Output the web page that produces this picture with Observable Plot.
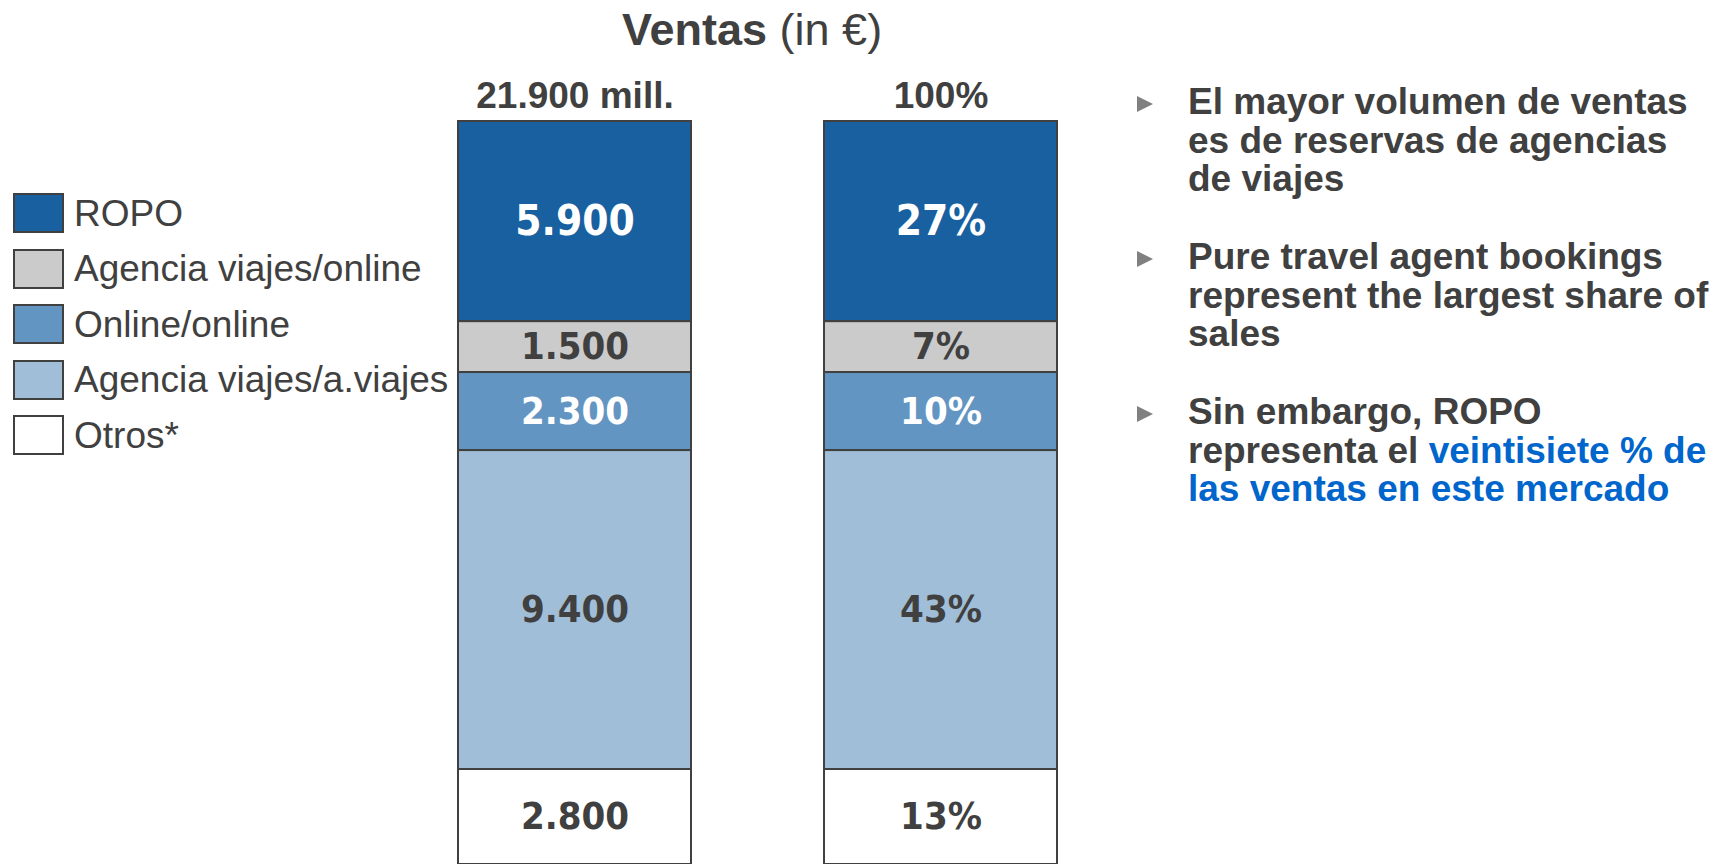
<!DOCTYPE html>
<html>
<head>
<meta charset="utf-8">
<script src="https://cdn.jsdelivr.net/npm/d3@7"></script>
<script src="https://cdn.jsdelivr.net/npm/@observablehq/plot@0.6"></script>
<style>
  html, body { margin: 0; padding: 0; background: #ffffff; }
  #page { position: relative; width: 1726px; height: 864px; overflow: hidden; font-family: "Liberation Sans", Arial, sans-serif; color: #404040; }
  #chart { position: absolute; left: 0; top: 0; }
  .abs { position: absolute; white-space: nowrap; }
  #title { font-size: 45px; line-height: 45px; }
  .leg-sq { position: absolute; box-sizing: border-box; width: 51px; height: 40px; border: 2px solid #404040; }
  .leg-tx { position: absolute; font-size: 37px; line-height: 37px; white-space: nowrap; }
  .bullet { position: absolute; font-size: 37px; line-height: 38.75px; font-weight: bold; white-space: nowrap; }
  .tri { position: absolute; width: 0; height: 0; border-top: 8px solid transparent; border-bottom: 8px solid transparent; border-left: 16px solid #808080; }
  .hl { color: #0066cc; }
</style>
</head>
<body>
<div id="page">
  <div id="chart"></div>
</div>
<script>
// ---- data ----
const categories = ["ROPO", "Agencia viajes/online", "Online/online", "Agencia viajes/a.viajes", "Otros*"];
const colors = ["#1860a0", "#cbcbcb", "#6395c2", "#a0bed8", "#ffffff"];
const labelColors = ["#ffffff", "#404040", "#ffffff", "#404040", "#404040"];
const ventas = [5900, 1500, 2300, 9400, 2800];   // mill. €
const shares = [27, 7, 10, 43, 13];              // % (labels of the share bar)
const bars = ["ventas", "share"];
const barHeaders = ["21.900 mill.", "100%"];
const titleBold = "Ventas";
const titleRest = " (in €)";
const bullets = [
  [["El mayor volumen de ventas"], ["es de reservas de agencias"], ["de viajes"]],
  [["Pure travel agent bookings"], ["represent the largest share of"], ["sales"]],
  [["Sin embargo, ROPO"], ["representa el ", "veintisiete % de"], ["", "las ventas en este mercado"]]
];

// ---- build rows ----
const fmt = d3.formatLocale({decimal: ",", thousands: ".", grouping: [3], currency: ["", "€"]}).format(",d");
const rows = [];
categories.forEach((c, i) => {
  // both bars are the same sales split; the second one is labelled as share of the total
  rows.push({bar: bars[0], cat: c, value: ventas[i], label: fmt(ventas[i]), lc: labelColors[i]});
  rows.push({bar: bars[1], cat: c, value: ventas[i], label: shares[i] + "%", lc: labelColors[i]});
});
const headerRows = bars.map((b, i) => ({bar: b, header: barHeaders[i]}));
const stackOrder = categories.slice().reverse(); // bottom to top

const numFont = "'DejaVu Sans Condensed', 'DejaVu Sans', sans-serif";
const arial = "'Liberation Sans', Arial, sans-serif";
const stackOpts = {x: "bar", y: "value", z: "cat", order: stackOrder, offset: "normalize"};

function labelMark(pred, fill, size) {
  return Plot.text(rows, Plot.stackY({
    ...stackOpts,
    text: d => pred(d) ? d.label : null,
    fill, fontSize: size, fontWeight: "bold", fontFamily: numFont
  }));
}

const chart = Plot.plot({
  width: 1726,
  height: 864,
  marginTop: 121,
  marginBottom: 0,
  marginLeft: 458,
  marginRight: 669,
  style: {background: "transparent", fontFamily: arial, overflow: "visible"},
  x: {domain: bars, paddingInner: 0.3634, paddingOuter: 0, axis: null},
  y: {domain: [0, 1], axis: null},
  color: {domain: categories, range: colors},
  marks: [
    Plot.barY(rows, {...stackOpts, fill: "cat", stroke: "#404040", strokeWidth: 2}),
    labelMark(d => d.cat === "ROPO", "#ffffff", 42),
    labelMark(d => d.cat === "Online/online", "#ffffff", 38),
    labelMark(d => d.lc !== "#ffffff", "#404040", 38),
    Plot.text(headerRows, {x: "bar", text: "header", frameAnchor: "top", lineAnchor: "bottom", dy: -14,
      fontSize: 37, fontWeight: "bold", fill: "#404040", fontFamily: arial})
  ]
});
document.getElementById("chart").appendChild(chart);

// ---- title / legend / bullets (HTML around the SVG) ----
const page = document.getElementById("page");
function add(html, cls, left, top) {
  const el = document.createElement("div");
  el.className = cls;
  el.style.left = left + "px";
  el.style.top = top + "px";
  el.innerHTML = html;
  page.appendChild(el);
  return el;
}
const title = add("<b>" + titleBold + "</b>" + titleRest, "abs", 622, 45 - 0.8465 * 45);
title.id = "title";

categories.forEach((c, i) => {
  const top = 193 + i * 55.6;
  const sq = add("", "leg-sq", 13, top);
  sq.style.background = colors[i];
  add(c, "leg-tx", 74, top + 33 - 0.8465 * 37);
});

bullets.forEach((lines, k) => {
  const firstBaseline = 115 + k * 155;
  add("", "tri", 1137, firstBaseline - 11 - 8);
  const html = lines.map(parts => {
    const dark = parts[0] ? parts[0] : "";
    const blue = parts[1] ? '<span class="hl">' + parts[1] + "</span>" : "";
    return dark + blue;
  }).join("<br>");
  add(html, "bullet", 1188, firstBaseline - 32.2);
});
</script>
</body>
</html>
